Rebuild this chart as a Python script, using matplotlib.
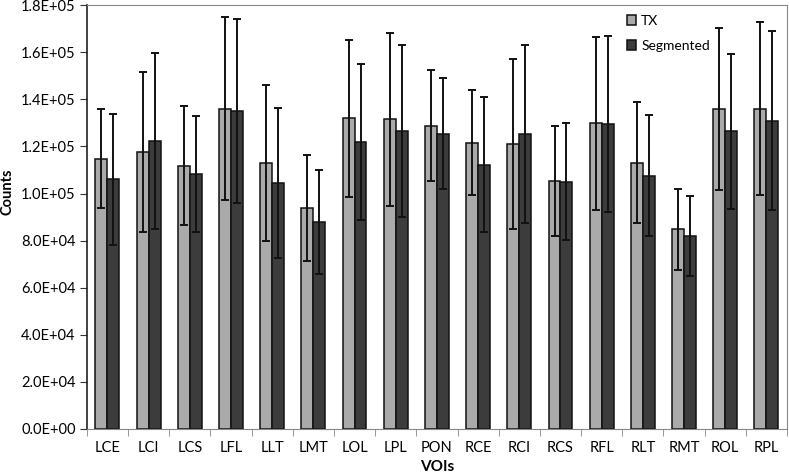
import numpy as np
from matplotlib import pyplot as plt
from matplotlib.ticker import FuncFormatter, FixedLocator

plt.rcParams['font.family'] = ['Lato', 'DejaVu Sans']

# data
vois = ["LCE", "LCI", "LCS", "LFL", "LLT", "LMT", "LOL", "LPL", "PON",
        "RCE", "RCI", "RCS", "RFL", "RLT", "RMT", "ROL", "RPL"]
tx_mean = [114800, 117700, 111900, 136000, 113100, 93700, 131900, 131600, 128900,
           121600, 121100, 105400, 129900, 113100, 84800, 136000, 136000]
tx_err = [21000, 34000, 25200, 38800, 33100, 22500, 33500, 36800, 23500,
          22400, 36000, 23500, 36800, 25800, 17300, 34300, 36700]
seg_mean = [106100, 122300, 108300, 135000, 104400, 87900, 122000, 126700, 125500,
            112200, 125200, 105100, 129600, 107600, 81800, 126400, 131000]
seg_err = [27800, 37200, 24800, 39000, 31800, 22000, 33100, 36500, 23400,
           28600, 37900, 24900, 37400, 25800, 17000, 33000, 37900]


def sci_fmt(v, pos):
    if v == 0:
        return "0.0E+00"
    exp = int(np.floor(np.log10(abs(v))))
    return f"{v / 10**exp:.1f}E+{exp:02d}"


fig = plt.figure(figsize=(7.89, 4.74), dpi=100)
ax = fig.add_axes([0.110, 0.095, 0.8875, 0.894])

x = np.arange(len(vois))
w = 0.29
err_kw = dict(ecolor='#111111', elinewidth=1.4, capsize=3.2, capthick=1.4)
ax.bar(x - w / 2, tx_mean, w, yerr=tx_err, color='#aaaaaa', edgecolor='#111111',
       linewidth=1.1, label='TX', error_kw=err_kw)
ax.bar(x + w / 2, seg_mean, w, yerr=seg_err, color='#3c3c3c', edgecolor='#111111',
       linewidth=1.1, label='Segmented', error_kw=err_kw)

ax.set_xlim(-0.5, len(vois) - 0.5)
ax.set_ylim(0, 180000)
ax.set_yticks(np.arange(0, 180001, 20000))
ax.yaxis.set_major_formatter(FuncFormatter(sci_fmt))
ax.set_xticks(x)
ax.set_xticklabels(vois)
ax.xaxis.set_minor_locator(FixedLocator(np.arange(-0.5, len(vois), 1.0)))
ax.tick_params(axis='x', which='major', length=0, pad=9, labelsize=10.5)
ax.tick_params(axis='x', which='minor', length=5, color='#888888', direction='out')
ax.tick_params(axis='y', length=5, color='#333333', labelsize=10.5, pad=3)

for side in ['top', 'right']:
    ax.spines[side].set_color('#888888')
ax.spines['bottom'].set_color('#888888')
ax.spines['left'].set_color('#222222')
ax.spines['left'].set_linewidth(1.2)

fig.text(8 / 789, 1 - 192 / 474, 'Counts', rotation=90, ha='center', va='center',
         fontweight='bold', fontsize=10.5)
ax.set_xlabel('VOIs', fontweight='bold', fontsize=11, labelpad=3)

ax.legend(loc='upper left', bbox_to_anchor=(0.757, 1.0), frameon=False,
          fontsize=10, handlelength=0.7, handleheight=0.7, labelspacing=0.95,
          handletextpad=0.35, borderpad=0.2)

fig.savefig('out.png', dpi=100)
